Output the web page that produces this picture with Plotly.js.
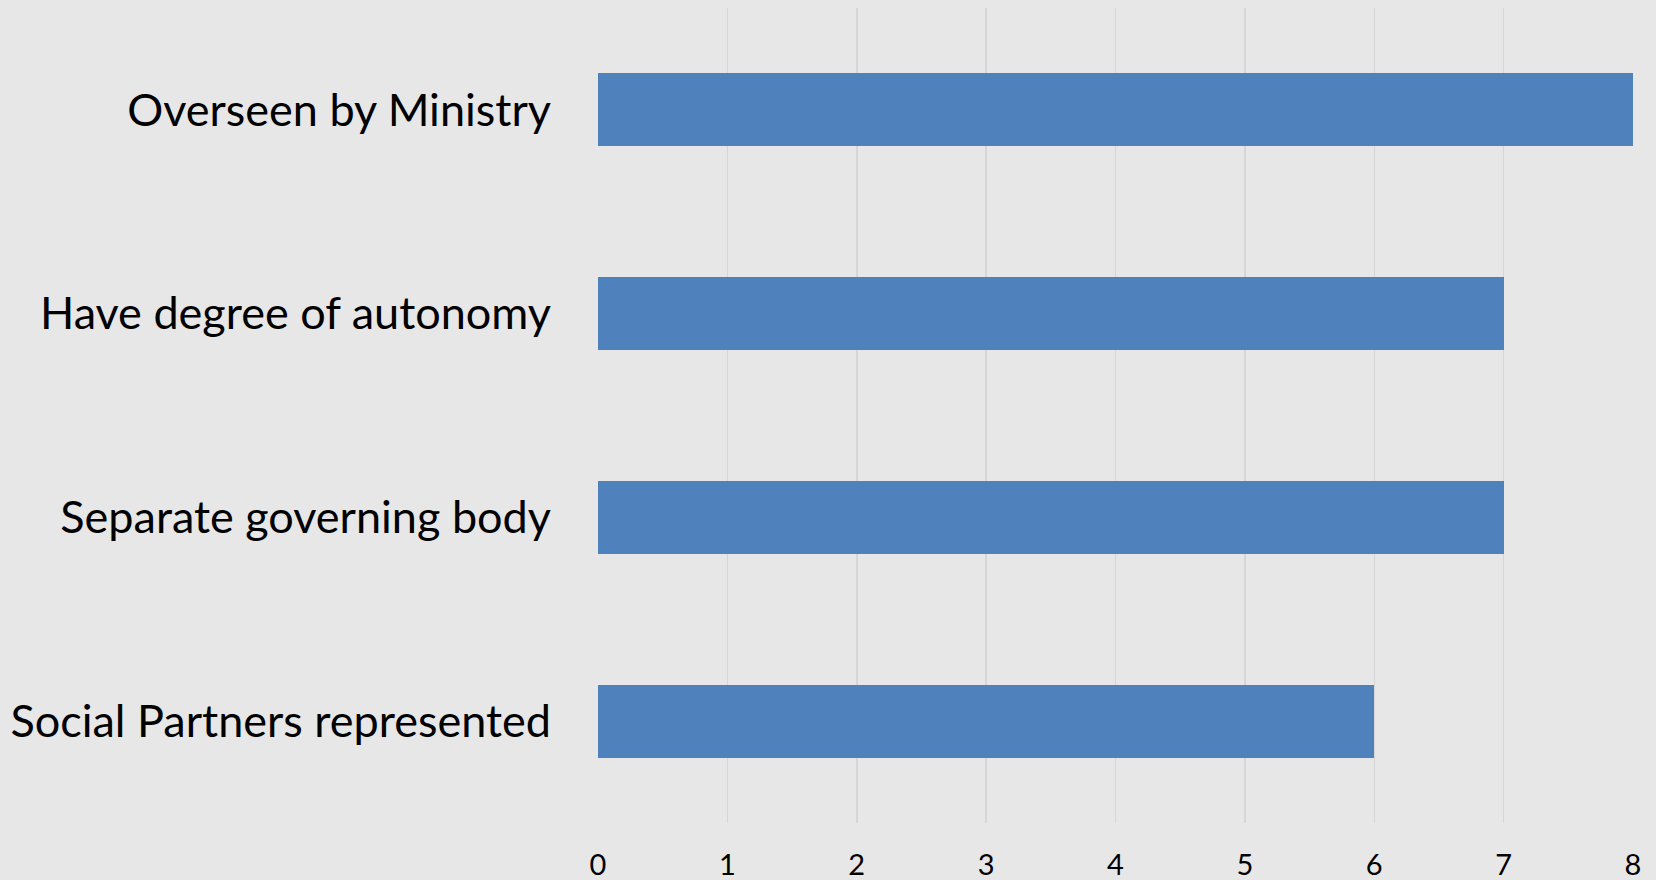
<!DOCTYPE html>
<html>
<head>
<meta charset="utf-8">
<script src="https://cdn.plot.ly/plotly-3.0.1.min.js"></script>
<style>html,body{margin:0;padding:0;background:#E7E7E7;}#chart{width:1656px;height:880px;}</style>
</head>
<body>
<div id="chart"></div>
<script>
const categories = ["Social Partners represented", "Separate governing body", "Have degree of autonomy", "Overseen by Ministry"];
const values = [6, 7, 7, 8];
const tickValues = [0, 1, 2, 3, 4, 5, 6, 7, 8];

const trace = {
  type: 'bar',
  orientation: 'h',
  y: categories,
  x: values,
  width: 0.358,
  marker: {color: '#4F81BD'},
  hoverinfo: 'none'
};

const layout = {
  width: 1656,
  height: 880,
  paper_bgcolor: '#E7E7E7',
  plot_bgcolor: '#E7E7E7',
  margin: {l: 598, r: 23, t: 8, b: 57},
  showlegend: false,
  bargap: 0,
  xaxis: {
    range: [0, 8],
    tickvals: tickValues,
    ticktext: tickValues.map(String),
    showgrid: true,
    gridcolor: '#D6D6D6',
    gridwidth: 1.5,
    zeroline: false,
    showline: false,
    ticks: 'outside',
    ticklen: 16,
    tickcolor: 'rgba(0,0,0,0)',
    tickfont: {family: 'Lato, sans-serif', size: 29, color: '#000000'},
    fixedrange: true
  },
  yaxis: {
    type: 'category',
    categoryorder: 'array',
    categoryarray: categories,
    showgrid: false,
    zeroline: false,
    showline: false,
    ticks: 'outside',
    ticklen: 37,
    tickcolor: 'rgba(0,0,0,0)',
    tickfont: {family: 'Lato, sans-serif', size: 45, color: '#000000'},
    fixedrange: true
  }
};

Plotly.newPlot('chart', [trace], layout, {displayModeBar: false, staticPlot: true});
</script>
</body>
</html>
